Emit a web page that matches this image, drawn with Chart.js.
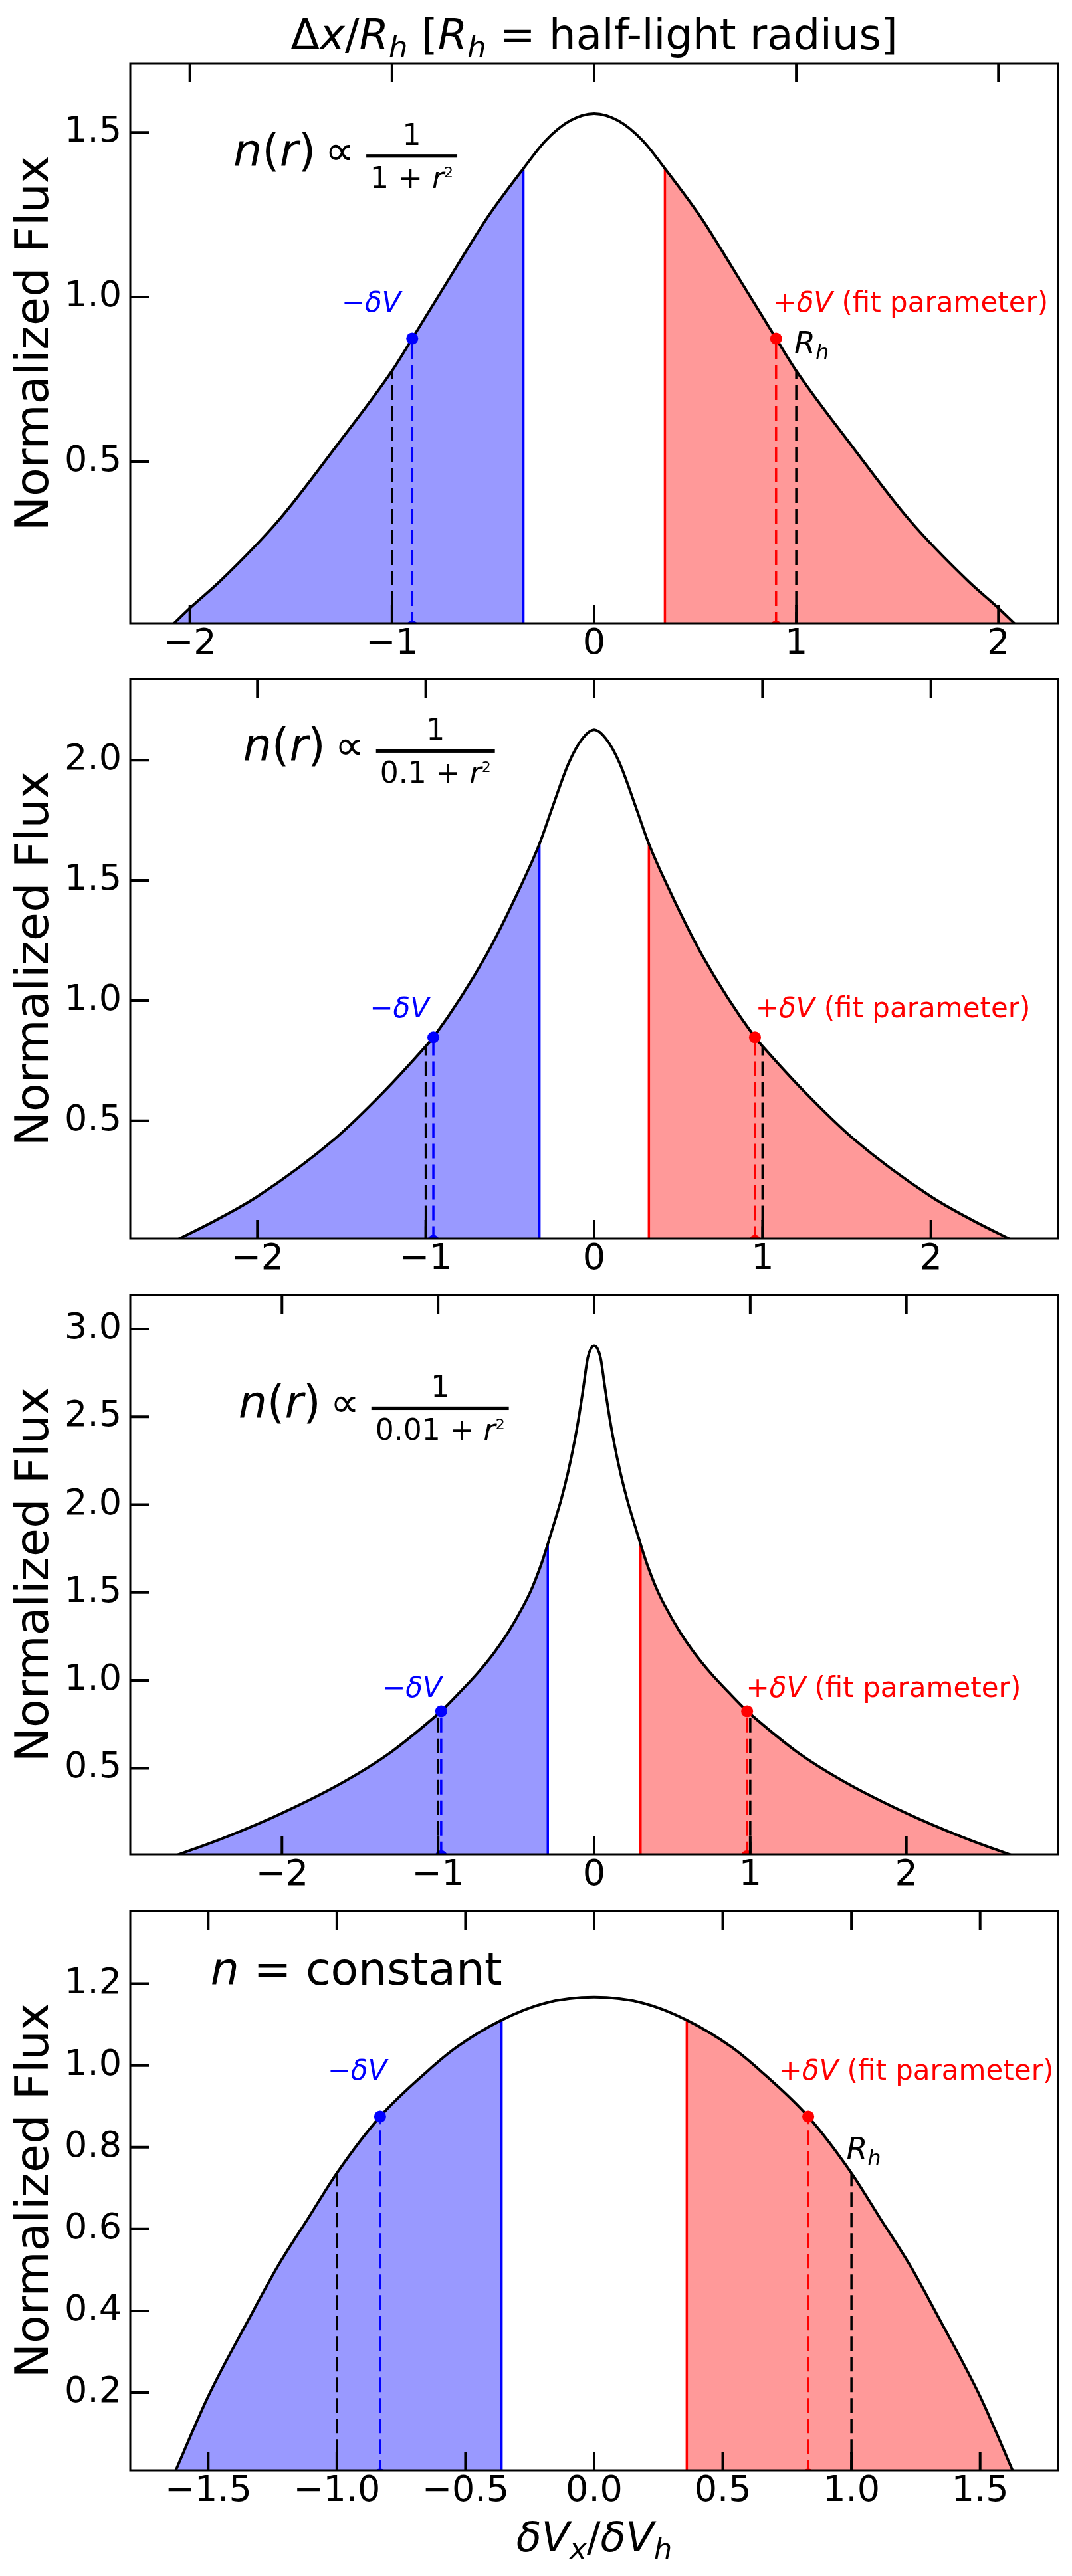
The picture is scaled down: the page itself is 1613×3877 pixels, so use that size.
<!DOCTYPE html>
<html>
<head>
<meta charset="utf-8">
<script src="https://cdn.jsdelivr.net/npm/chart.js@4.4.1/dist/chart.umd.min.js"></script>
<style>
  html, body { margin: 0; padding: 0; background: #fff; }
  #wrap { position: relative; width: 1613px; height: 3877px; overflow: hidden; background: #fff; }
  #wrap canvas { position: absolute; left: 0; }
</style>
</head>
<body>
<div id="wrap">
  <canvas id="c1" width="1613" height="1098" style="top:0px"></canvas>
  <canvas id="c2" width="1613" height="1098" style="top:926px"></canvas>
  <canvas id="c3" width="1613" height="1098" style="top:1853px"></canvas>
  <canvas id="c4" width="1613" height="1098" style="top:2780px"></canvas>
</div>
<script>
// ---- panel 1 : n(r) ~ 1/(1+r^2)
const p1X = [-2.095, -2.0, -1.85, -1.56, -1.27, -1.0, -0.9, -0.68, -0.53, -0.35, -0.24, -0.12, 0,
             0.12, 0.24, 0.35, 0.53, 0.68, 0.9, 1.0, 1.27, 1.56, 1.85, 2.0, 2.095];
const p1Y = [0.0, 0.056, 0.138, 0.323, 0.552, 0.776, 0.874, 1.093, 1.24, 1.39, 1.475, 1.535, 1.557,
             1.535, 1.475, 1.39, 1.24, 1.093, 0.874, 0.776, 0.552, 0.323, 0.138, 0.056, 0.0];
const p1Cut = [-0.35, 0.35];
const p1CutY = [1.39, 1.39];
const p1Rh = [-1, 1];
const p1RhY = [0.776, 0.776];
const p1Dv = [-0.9, 0.9];
const p1DvY = [0.874, 0.874];
const p1XTicks = [-2, -1, 0, 1, 2];
const p1XLabels = ['−2', '−1', '0', '1', '2'];
const p1YTicks = [0.5, 1.0, 1.5];
const p1YLabels = ['0.5', '1.0', '1.5'];

// ---- panel 2 : n(r) ~ 1/(0.1+r^2)
const p2X = [-2.49, -2.25, -2.0, -1.54, -1.25, -1.0, -0.955, -0.64, -0.44, -0.325, -0.25, -0.15, -0.07, 0,
             0.07, 0.15, 0.25, 0.325, 0.44, 0.64, 0.955, 1.0, 1.25, 1.54, 2.0, 2.25, 2.49];
const p2Y = [0.0, 0.085, 0.185, 0.425, 0.62, 0.81, 0.847, 1.19, 1.47, 1.652, 1.80, 1.99, 2.09, 2.127,
             2.09, 1.99, 1.80, 1.652, 1.47, 1.19, 0.847, 0.81, 0.62, 0.425, 0.185, 0.085, 0.0];
const p2Cut = [-0.325, 0.325];
const p2CutY = [1.652, 1.652];
const p2Rh = [-1, 1];
const p2RhY = [0.81, 0.81];
const p2Dv = [-0.955, 0.955];
const p2DvY = [0.847, 0.847];
const p2XTicks = [-2, -1, 0, 1, 2];
const p2XLabels = ['−2', '−1', '0', '1', '2'];
const p2YTicks = [0.5, 1.0, 1.5, 2.0];
const p2YLabels = ['0.5', '1.0', '1.5', '2.0'];

// ---- panel 3 : n(r) ~ 1/(0.01+r^2)
const p3X = [-2.69, -2.35, -2.0, -1.6, -1.3, -1.0, -0.98, -0.865, -0.75, -0.637, -0.55, -0.453, -0.396,
             -0.339, -0.297, -0.254, -0.212, -0.169, -0.126, -0.098, -0.069, -0.041, -0.02, 0,
             0.02, 0.041, 0.069, 0.098, 0.126, 0.169, 0.212, 0.254, 0.297, 0.339,
             0.396, 0.453, 0.55, 0.637, 0.75, 0.865, 0.98, 1.0, 1.3, 1.6, 2.0, 2.35, 2.69];
const p3Y = [0.0, 0.112, 0.245, 0.425, 0.593, 0.809, 0.825, 0.929, 1.038, 1.162, 1.275, 1.425, 1.530,
             1.661, 1.776, 1.901, 2.027, 2.178, 2.359, 2.499, 2.667, 2.835, 2.89, 2.904,
             2.89, 2.835, 2.667, 2.499, 2.359, 2.178, 2.027, 1.901, 1.776, 1.661,
             1.530, 1.425, 1.275, 1.162, 1.038, 0.929, 0.825, 0.809, 0.593, 0.425, 0.245, 0.112, 0.0];
const p3Cut = [-0.297, 0.297];
const p3CutY = [1.776, 1.776];
const p3Rh = [-1, 1];
const p3RhY = [0.809, 0.809];
const p3Dv = [-0.98, 0.98];
const p3DvY = [0.825, 0.825];
const p3XTicks = [-2, -1, 0, 1, 2];
const p3XLabels = ['−2', '−1', '0', '1', '2'];
const p3YTicks = [0.5, 1.0, 1.5, 2.0, 2.5, 3.0];
const p3YLabels = ['0.5', '1.0', '1.5', '2.0', '2.5', '3.0'];

// ---- panel 4 : n = constant
const p4X = [-1.633, -1.5, -1.342, -1.227, -1.111, -1.0, -0.832, -0.65, -0.534, -0.36, -0.188, 0,
             0.188, 0.36, 0.534, 0.65, 0.832, 1.0, 1.111, 1.227, 1.342, 1.5, 1.633];
const p4Y = [0.0, 0.191, 0.38, 0.512, 0.627, 0.737, 0.875, 0.985, 1.045, 1.111, 1.153, 1.167,
             1.153, 1.111, 1.045, 0.985, 0.875, 0.737, 0.627, 0.512, 0.38, 0.191, 0.0];
const p4Cut = [-0.36, 0.36];
const p4CutY = [1.111, 1.111];
const p4Rh = [-1, 1];
const p4RhY = [0.737, 0.737];
const p4Dv = [-0.832, 0.832];
const p4DvY = [0.875, 0.875];
const p4XTicks = [-1.5, -1.0, -0.5, 0, 0.5, 1.0, 1.5];
const p4XLabels = ['−1.5', '−1.0', '−0.5', '0.0', '0.5', '1.0', '1.5'];
const p4YTicks = [0.2, 0.4, 0.6, 0.8, 1.0, 1.2];
const p4YLabels = ['0.2', '0.4', '0.6', '0.8', '1.0', '1.2'];

const BLUE = '#0000ff', RED = '#ff0000';
const FONT = '"DejaVu Sans", sans-serif';

const panels = [
  { id: 'c1', x: p1X, y: p1Y, cut: p1Cut, cutY: p1CutY, rh: p1Rh, rhY: p1RhY, dv: p1Dv, dvY: p1DvY,
    xt: p1XTicks, xl: p1XLabels, yt: p1YTicks, yl: p1YLabels, xr: 2.295, ymax: 1.708,
    formula: { at: [-1.785, 1.398], den: '1' }, blueAt: [-1.103, 0.956], redAt: [0.886, 0.956],
    rhAt: [0.99, 0.828], title: true },
  { id: 'c2', x: p2X, y: p2Y, cut: p2Cut, cutY: p2CutY, rh: p2Rh, rhY: p2RhY, dv: p2Dv, dvY: p2DvY,
    xt: p2XTicks, xl: p2XLabels, yt: p2YTicks, yl: p2YLabels, xr: 2.755, ymax: 2.338,
    formula: { at: [-2.085, 1.997], den: '0.1' }, blueAt: [-1.156, 0.931], redAt: [0.958, 0.931] },
  { id: 'c3', x: p3X, y: p3Y, cut: p3Cut, cutY: p3CutY, rh: p3Rh, rhY: p3RhY, dv: p3Dv, dvY: p3DvY,
    xt: p3XTicks, xl: p3XLabels, yt: p3YTicks, yl: p3YLabels, xr: 2.972, ymax: 3.193,
    formula: { at: [-2.279, 2.492], den: '0.01' }, blueAt: [-1.167, 0.905], redAt: [0.973, 0.905] },
  { id: 'c4', x: p4X, y: p4Y, cut: p4Cut, cutY: p4CutY, rh: p4Rh, rhY: p4RhY, dv: p4Dv, dvY: p4DvY,
    xt: p4XTicks, xl: p4XLabels, yt: p4YTicks, yl: p4YLabels, xr: 1.803, ymax: 1.378,
    constAt: [-1.491, 1.198], blueAt: [-0.921, 0.965], redAt: [0.717, 0.965],
    rhAt: [0.98, 0.771], xlabel: true }
];

function fontOf(p) {
  return (p.it ? 'italic ' : '') + p.s + 'px ' + FONT;
}
function richWidth(ctx, parts) {
  let w = 0;
  for (const p of parts) { ctx.font = fontOf(p); w += ctx.measureText(p.t).width; }
  return w;
}
function drawRich(ctx, parts, x, y, align, color) {
  const w = richWidth(ctx, parts);
  let cx = align === 'center' ? x - w / 2 : (align === 'right' ? x - w : x);
  ctx.fillStyle = color;
  ctx.textAlign = 'left';
  ctx.textBaseline = 'alphabetic';
  for (const p of parts) {
    ctx.font = fontOf(p);
    ctx.fillText(p.t, cx, y + (p.dy || 0));
    cx += ctx.measureText(p.t).width;
  }
}

// n(r) ∝ 1 / (den + r^2), laid out like matplotlib mathtext
function drawFormula(ctx, x0, base, den) {
  const S = 68, s = 44;
  drawRich(ctx, [{ t: 'n', it: 1, s: S }, { t: '(', s: S }, { t: 'r', it: 1, s: S }, { t: ')', s: S }],
           x0, base, 'left', '#000');
  drawRich(ctx, [{ t: '∝', s: 62 }], x0 + 138, base - 2, 'left', '#000');
  const denParts = [{ t: den + ' + ', s: s }, { t: 'r', it: 1, s: s }, { t: '2', s: 22, dy: -16 }];
  const numParts = [{ t: '1', s: s }];
  const w = Math.max(richWidth(ctx, denParts), richWidth(ctx, numParts)) + 12;
  const bx = x0 + 200, by = base - 15;
  ctx.fillStyle = '#000';
  ctx.fillRect(bx, by - 2.6, w, 5.2);
  drawRich(ctx, numParts, bx + w / 2, by - 17, 'center', '#000');
  drawRich(ctx, denParts, bx + w / 2, by + 48, 'center', '#000');
}

function makeDeco(P) {
  return {
    id: 'deco',
    afterDatasetsDraw(chart) {
      const { ctx, chartArea: a, scales: { x, y } } = chart;
      ctx.save();
      // frame
      ctx.strokeStyle = '#000';
      ctx.lineWidth = 3;
      ctx.strokeRect(a.left, a.top, a.right - a.left, a.bottom - a.top);
      // inward ticks
      ctx.lineWidth = 4;
      ctx.beginPath();
      x.ticks.forEach(t => {
        const px = x.getPixelForValue(t.value);
        ctx.moveTo(px, a.bottom); ctx.lineTo(px, a.bottom - 28);
        ctx.moveTo(px, a.top); ctx.lineTo(px, a.top + 28);
      });
      y.ticks.forEach(t => {
        const py = y.getPixelForValue(t.value);
        ctx.moveTo(a.left, py); ctx.lineTo(a.left + 28, py);
      });
      ctx.stroke();

      // y label
      ctx.save();
      ctx.translate(72, (a.top + a.bottom) / 2);
      ctx.rotate(-Math.PI / 2);
      ctx.font = '70px ' + FONT;
      ctx.fillStyle = '#000';
      ctx.textAlign = 'center';
      ctx.textBaseline = 'alphabetic';
      ctx.fillText('Normalized Flux', 0, 0);
      ctx.restore();

      const X = v => x.getPixelForValue(v), Y = v => y.getPixelForValue(v);

      if (P.formula) drawFormula(ctx, X(P.formula.at[0]), Y(P.formula.at[1]), P.formula.den);
      if (P.constAt) {
        drawRich(ctx, [{ t: 'n', it: 1, s: 68 }, { t: ' = constant', s: 68 }],
                 X(P.constAt[0]), Y(P.constAt[1]), 'left', '#000');
      }
      drawRich(ctx, [{ t: '−', s: 42 }, { t: 'δV', it: 1, s: 42 }],
               X(P.blueAt[0]), Y(P.blueAt[1]), 'center', BLUE);
      drawRich(ctx, [{ t: '+', s: 42 }, { t: 'δV', it: 1, s: 42 }, { t: ' (fit parameter)', s: 42 }],
               X(P.redAt[0]), Y(P.redAt[1]), 'left', RED);
      if (P.rhAt) {
        drawRich(ctx, [{ t: 'R', it: 1, s: 46 }, { t: 'h', it: 1, s: 32, dy: 9 }],
                 X(P.rhAt[0]), Y(P.rhAt[1]), 'left', '#000');
      }
      if (P.title) {
        drawRich(ctx, [
          { t: 'Δ', s: 64 }, { t: 'x', it: 1, s: 64 }, { t: '/', s: 64 }, { t: 'R', it: 1, s: 64 },
          { t: 'h', it: 1, s: 45, dy: 12 }, { t: ' [', s: 64 }, { t: 'R', it: 1, s: 64 },
          { t: 'h', it: 1, s: 45, dy: 12 }, { t: ' = half-light radius]', s: 64 }
        ], (a.left + a.right) / 2, 74, 'center', '#000');
      }
      if (P.xlabel) {
        drawRich(ctx, [
          { t: 'δV', it: 1, s: 62 }, { t: 'x', it: 1, s: 43, dy: 11 }, { t: '/', s: 62 },
          { t: 'δV', it: 1, s: 62 }, { t: 'h', it: 1, s: 43, dy: 11 }
        ], (a.left + a.right) / 2, a.bottom + 122, 'center', '#000');
      }
      ctx.restore();
    }
  };
}

function pts(xs, ys) {
  return xs.map((v, i) => ({ x: v, y: ys[i] }));
}

panels.forEach(P => {
  const curve = pts(P.x, P.y);
  const leftFill = curve.filter(p => p.x <= P.cut[0]);
  const rightFill = curve.filter(p => p.x >= P.cut[1]);
  const tickFont = { family: FONT, size: 54 };

  const datasets = [
    { data: leftFill, fill: 'origin', backgroundColor: 'rgba(0,0,255,0.4)', borderWidth: 0,
      pointRadius: 0, cubicInterpolationMode: 'monotone', order: 4 },
    { data: rightFill, fill: 'origin', backgroundColor: 'rgba(255,0,0,0.4)', borderWidth: 0,
      pointRadius: 0, cubicInterpolationMode: 'monotone', order: 4 },
    { data: [{ x: P.cut[0], y: 0 }, { x: P.cut[0], y: P.cutY[0] }], borderColor: BLUE, borderWidth: 3.5,
      pointRadius: 0, order: 3 },
    { data: [{ x: P.cut[1], y: 0 }, { x: P.cut[1], y: P.cutY[1] }], borderColor: RED, borderWidth: 3.5,
      pointRadius: 0, order: 3 },
    { data: [{ x: P.rh[0], y: 0 }, { x: P.rh[0], y: P.rhY[0] }], borderColor: '#000', borderWidth: 3.5,
      borderDash: [22, 9], pointRadius: 0, order: 2 },
    { data: [{ x: P.rh[1], y: 0 }, { x: P.rh[1], y: P.rhY[1] }], borderColor: '#000', borderWidth: 3.5,
      borderDash: [22, 9], pointRadius: 0, order: 2 },
    { data: curve, borderColor: '#000', borderWidth: 4, pointRadius: 0,
      cubicInterpolationMode: 'monotone', order: 1 },
    { data: [{ x: P.dv[0], y: 0 }, { x: P.dv[0], y: P.dvY[0] }], borderColor: BLUE, borderWidth: 3.5,
      borderDash: [22, 9], pointRadius: 9, pointBackgroundColor: BLUE, pointBorderWidth: 0, order: 0 },
    { data: [{ x: P.dv[1], y: 0 }, { x: P.dv[1], y: P.dvY[1] }], borderColor: RED, borderWidth: 3.5,
      borderDash: [22, 9], pointRadius: 9, pointBackgroundColor: RED, pointBorderWidth: 0, order: 0 }
  ];

  new Chart(document.getElementById(P.id), {
    type: 'line',
    data: { datasets },
    options: {
      responsive: false,
      devicePixelRatio: 1,
      animation: false,
      events: [],
      layout: { padding: { top: 96, right: 21, left: 0, bottom: 0 } },
      plugins: { legend: { display: false }, tooltip: { enabled: false } },
      scales: {
        x: {
          type: 'linear', min: -P.xr, max: P.xr,
          grid: { display: false, drawTicks: false },
          border: { display: false },
          ticks: { font: tickFont, color: '#000', padding: 0, maxRotation: 0, autoSkip: false,
                   includeBounds: false, callback: (v, i) => P.xl[i] },
          afterBuildTicks: s => { s.ticks = P.xt.map(v => ({ value: v })); },
          afterFit: s => { s.height = 160; }
        },
        y: {
          type: 'linear', min: 0.01, max: P.ymax,
          grid: { display: false, drawTicks: false },
          border: { display: false },
          ticks: { font: tickFont, color: '#000', padding: 13, autoSkip: false,
                   includeBounds: false, callback: (v, i) => P.yl[i] },
          afterBuildTicks: s => { s.ticks = P.yt.map(v => ({ value: v })); },
          afterFit: s => { s.width = 196; }
        }
      }
    },
    plugins: [makeDeco(P)]
  });
});
</script>
</body>
</html>
